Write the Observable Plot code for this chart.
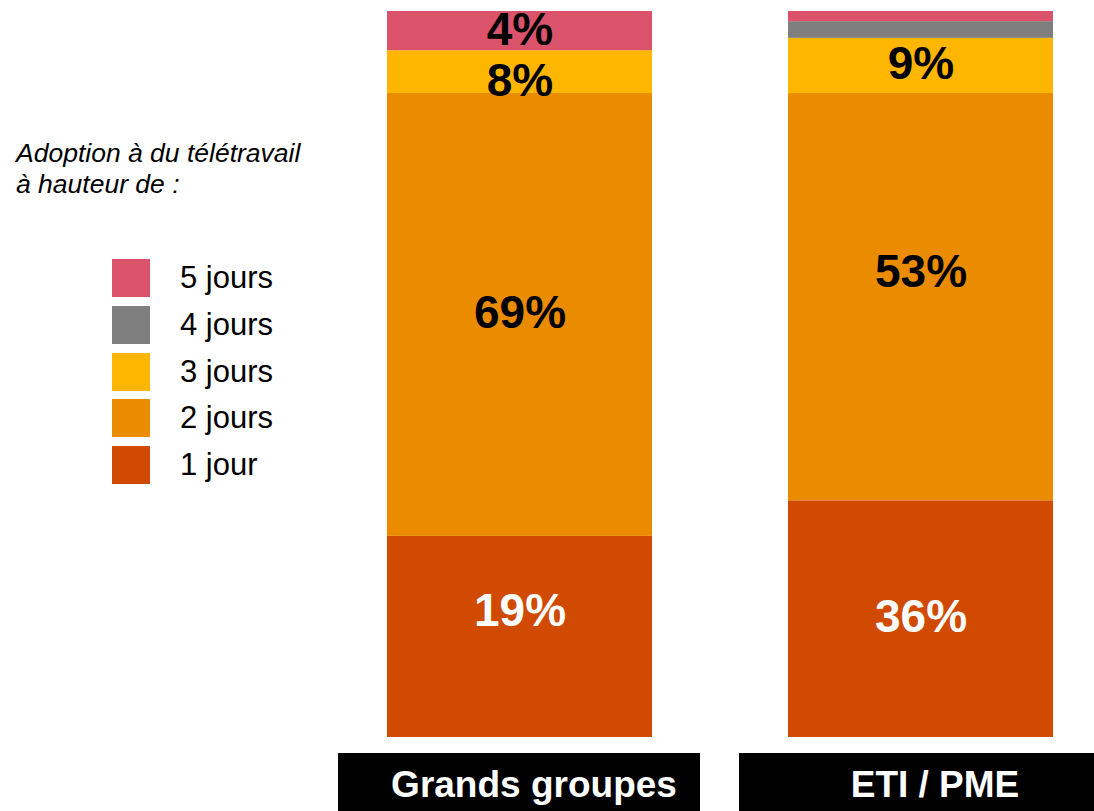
<!DOCTYPE html>
<html>
<head>
<meta charset="utf-8">
<script src="https://cdn.jsdelivr.net/npm/d3@7"></script>
<script src="https://cdn.jsdelivr.net/npm/@observablehq/plot@0.6"></script>
<style>
  html, body { margin: 0; padding: 0; background: #fff; }
  #wrap { position: relative; width: 1094px; height: 811px; overflow: hidden; font-family: "Liberation Sans", Arial, sans-serif; }
  #chart { position: absolute; left: 0; top: 0; }
  #title { position: absolute; left: 16px; top: 138px; font-size: 26.5px; line-height: 31px; font-style: italic; color: #000; white-space: nowrap; }
  #legend { position: absolute; left: 112px; top: 259px; width: 300px; }
  #legend .lg-swatches { font: 31px "Liberation Sans", Arial, sans-serif !important; color: #000 !important; margin: 0 !important; min-height: 0 !important; }
  #legend .lg-swatch { padding-bottom: 8.8px !important; margin: 0 !important; display: flex !important; align-items: center !important; }
  #legend .lg-swatch svg { margin-right: 30px !important; }
</style>
</head>
<body>
<div id="wrap">
  <div id="chart"></div>
  <div id="title">Adoption à du télétravail<br>à hauteur de :</div>
  <div id="legend"></div>
</div>
<script>
// Groups (bars)
const groups = ["Grands groupes", "ETI / PME"];
// Categories, bottom to top of each stack
const categories = ["1 jour", "2 jours", "3 jours", "4 jours", "5 jours"];
const colors = ["#D04A02", "#EB8C00", "#FFB600", "#7F7F7F", "#DB536A"];
// Segment heights as drawn in the picture (% of bar height)
const grandsGroupesValues = [27.7, 61.0, 5.9, 0, 5.4];
const etiPmeValues = [32.6, 56.1, 7.6, 2.3, 1.4];
// Printed labels
const grandsGroupesLabels = ["19%", "69%", "8%", "", "4%"];
const etiPmeLabels = ["36%", "53%", "9%", "", ""];

// Label placement tweaks (px), same order as rows below
const labelNudge = [-26, -2, 9.5, 0, -0.5, -2, -24.5, -2, 0, 0];

const rows = [];
groups.forEach((g, gi) => {
  const vals = gi === 0 ? grandsGroupesValues : etiPmeValues;
  const labs = gi === 0 ? grandsGroupesLabels : etiPmeLabels;
  categories.forEach((c, ci) => {
    rows.push({group: g, category: c, value: vals[ci], label: labs[ci]});
  });
});

const labelMarks = rows.map((r, k) => r.label ? Plot.text(rows, Plot.stackY({
  x: "group",
  y: "value",
  text: (d, i) => i === k ? d.label : null,
  dy: labelNudge[k],
  fill: r.category === "1 jour" ? "white" : "black",
  fontSize: 46,
  fontWeight: "bold"
})) : null).filter(Boolean);

const chart = Plot.plot({
  width: 1094,
  height: 811,
  marginTop: 11,
  marginBottom: 74,
  marginLeft: 346.9,
  marginRight: 0.9,
  style: {fontFamily: "'Liberation Sans', Arial, sans-serif", background: "white"},
  x: {type: "band", domain: groups, paddingInner: 136 / 401, paddingOuter: 0.1, round: false, axis: null},
  y: {domain: [0, 100], axis: null},
  color: {domain: categories, range: colors},
  marks: [
    Plot.barY(rows, Plot.stackY({x: "group", y: "value", fill: "category"})),
    ...labelMarks,
    Plot.cell(groups, {x: d => d, fill: "black", insetLeft: -49, insetRight: -48, insetTop: 742, insetBottom: -74}),
    Plot.text(groups, {x: d => d, text: d => d, frameAnchor: "bottom", lineAnchor: "middle", dy: 48, dx: 14, fill: "white", fontSize: 37, fontWeight: "bold"})
  ]
});
document.getElementById("chart").appendChild(chart);

const legend = Plot.legend({
  color: {domain: categories.slice().reverse(), range: colors.slice().reverse()},
  legend: "swatches",
  columns: 1,
  swatchSize: 38,
  className: "lg"
});
document.getElementById("legend").appendChild(legend);
</script>
</body>
</html>
